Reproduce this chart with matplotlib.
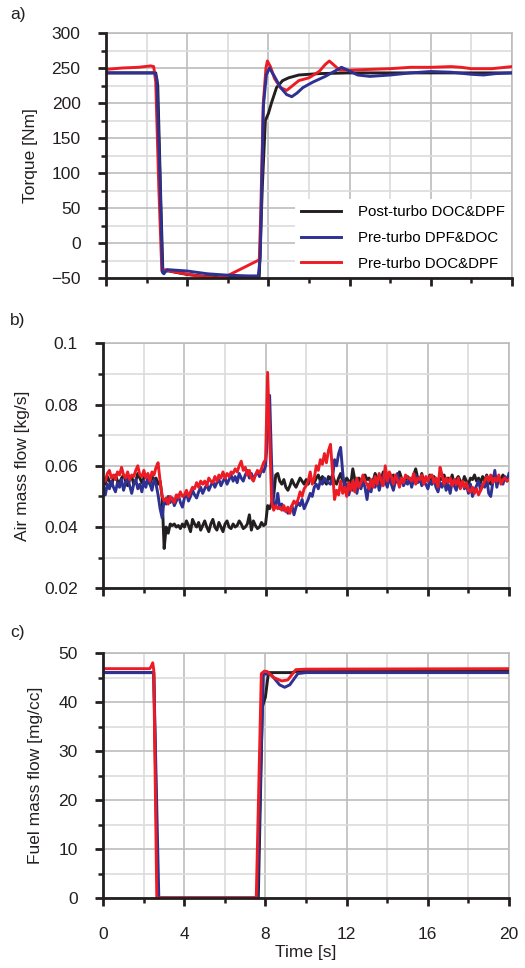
import numpy as np
import matplotlib
matplotlib.use("Agg")
import matplotlib.pyplot as plt
from matplotlib.ticker import MultipleLocator

plt.rcParams["font.family"] = ["Liberation Sans", "DejaVu Sans"]

#%% series labels and colours
labels = ["Post-turbo DOC&DPF", "Pre-turbo DPF&DOC", "Pre-turbo DOC&DPF"]
colors = ["#231f20", "#2e3192", "#ed1c24"]

#%% torque [Nm]
t_tq_post = [0, 2.45, 2.55, 2.7, 2.8, 3.1, 4.0, 5.0, 6.0, 7.0, 7.55, 7.7, 7.85, 8.0, 8.15,
             8.4, 8.7, 9.0, 9.5, 10.5, 12.0, 20]
tq_post = [243, 243, 225, 60, -40, -40, -45, -48, -48, -48, -48, 80, 175, 185, 200,
           222, 232, 236, 240, 242, 243, 243]

t_tq_dpf = [0, 2.4, 2.5, 2.65, 2.78, 2.85, 3.0, 4.0, 5.0, 6.0, 7.0, 7.5, 7.6, 7.75, 7.9,
            8.05, 8.3, 8.6, 8.9, 9.15, 9.4, 9.7, 10.2, 10.8, 11.3, 11.6, 11.9, 12.4, 13.0,
            14.0, 15.0, 16.0, 17.0, 18.0, 18.6, 19.2, 20]
tq_dpf = [243, 243, 235, 100, -42, -44, -38, -40, -44, -46, -47, -47, -20, 195, 240,
          250, 238, 222, 212, 209, 214, 222, 230, 238, 246, 251, 247, 240, 238,
          240, 243, 245, 244, 241, 240, 242, 243]

t_tq_doc = [0, 0.8, 1.6, 2.2, 2.35, 2.45, 2.6, 2.75, 2.85, 3.5, 4.5, 5.4, 5.9, 7.55, 7.62,
            7.75, 7.88, 7.95, 8.1, 8.3, 8.6, 8.9, 9.2, 9.5, 10.0, 10.5, 10.8, 11.0, 11.2,
            11.5, 12.0, 13.0, 14.0, 15.0, 16.0, 17.0, 17.5, 18.0, 19.0, 20.0]
tq_doc = [248, 250, 251, 253, 252, 230, 80, -40, -38, -42, -47, -50, -48, -24, 40,
          200, 250, 260, 252, 235, 222, 218, 225, 232, 236, 245, 255, 260, 255,
          247, 247, 248, 249, 251, 251, 252, 251, 249, 249, 252]

#%% air mass flow [g/s], sampled every 0.1 s
t_air = np.round(np.arange(0, 20.05, 0.1), 1)
air_post = [
    55.5, 54.0, 56.5, 55.0, 53.5, 56.0, 57.0, 55.0, 54.5, 56.0,
    57.0, 55.0, 53.5, 55.5, 56.5, 54.0, 55.0, 57.5, 56.0, 54.5,
    56.0, 57.0, 55.0, 54.0, 56.5, 55.5, 56.0, 54.0, 55.0, 50.0,
    33.0, 40.0, 38.0, 41.0, 40.5, 41.0, 40.0, 40.5, 39.5, 41.0,
    40.0, 42.0, 40.5, 38.5, 42.5, 41.0, 40.0, 41.5, 39.0, 40.5,
    42.0, 40.0, 38.5, 41.0, 42.5, 40.0, 39.0, 41.5, 40.0, 38.5,
    41.0, 42.0, 40.0, 39.5, 41.0, 40.0, 40.5, 42.0, 41.0, 39.5,
    40.0, 41.0, 44.0, 39.0, 42.0, 40.5, 39.5, 40.0, 41.5, 40.5,
    41.0, 47.0, 46.0, 48.0, 50.0, 57.0, 57.5, 55.0, 54.0, 55.5,
    53.0, 52.0, 53.5, 55.5, 54.0, 53.0, 54.5, 56.0, 55.0, 54.0,
    55.5, 54.0, 56.0, 55.5, 54.5, 56.0, 57.0, 55.0, 56.5, 55.0,
    54.0, 56.5, 55.5, 57.0, 55.0, 54.0, 56.0, 57.5, 55.0, 54.5,
    56.0, 55.0, 54.0, 59.0, 55.5, 53.5, 56.0, 55.0, 54.0, 57.0,
    55.5, 56.0, 54.0, 55.0, 57.5, 56.0, 54.0, 55.5, 58.0, 55.0,
    54.0, 56.5, 55.0, 57.0, 54.5, 55.5, 58.0, 56.0, 54.0, 55.5,
    56.5, 55.0, 54.0, 57.0, 59.0, 56.0, 55.0, 57.5, 54.5, 56.0,
    55.0, 57.0, 54.0, 56.5, 55.0, 54.0, 56.0, 55.5, 57.0, 54.5,
    56.0, 55.0, 57.0, 54.0, 55.5, 56.5, 55.0, 54.0, 56.5, 55.0,
    54.0, 56.0, 55.5, 57.0, 55.0, 56.0, 54.5, 56.5, 55.0, 57.0,
    55.0, 54.0, 56.5, 57.0, 55.0, 56.0, 55.5, 57.0, 56.0, 55.5,
    56.0]
air_dpf = [
    53.5, 50.5, 54.0, 52.5, 55.0, 53.0, 51.5, 54.5, 53.0, 55.5,
    52.0, 54.5, 56.0, 53.5, 51.0, 54.0, 55.5, 52.5, 54.0, 51.5,
    55.0, 53.0, 56.5, 54.0, 52.0, 55.5, 54.0, 50.5, 46.0, 43.0,
    49.0, 47.5, 50.0, 48.0, 49.5, 47.0, 48.5, 50.5, 48.0, 46.5,
    49.5, 51.0, 48.5, 50.0, 52.0, 50.5, 49.5, 51.5, 53.0, 51.0,
    52.5, 54.0, 52.0, 53.5, 55.0, 53.0, 54.5, 55.5, 53.5, 55.0,
    56.0, 54.0, 55.5, 57.0, 55.0, 56.5, 54.5, 57.5, 56.0, 55.0,
    57.0, 58.5, 56.0, 57.5, 55.5, 57.0, 58.0, 56.5, 59.0, 58.0,
    60.0, 70.0, 83.0, 60.0, 46.0, 47.0, 51.0, 46.0, 47.5, 45.5,
    46.0, 44.5, 45.5, 47.0, 44.0, 46.5, 48.0, 47.0, 49.0, 46.0,
    47.5, 49.0, 51.0, 50.0, 53.0, 54.0, 52.5, 55.0, 54.0, 56.0,
    55.0, 54.5, 54.0, 56.0, 62.0, 60.0, 64.0, 66.0, 58.0, 52.0,
    54.0, 50.5, 53.0, 52.0, 55.0, 51.0, 54.5, 52.5, 55.0, 53.0,
    49.0, 54.0, 51.5, 55.5, 53.0, 56.0, 52.0, 54.5, 57.0, 55.0,
    53.0, 56.5, 54.0, 52.0, 55.0, 57.5, 54.0, 56.0, 53.5, 55.0,
    54.0, 56.0, 53.0, 55.5, 57.0, 54.5, 56.0, 53.5, 55.0, 54.0,
    52.5, 55.0, 54.0, 56.0, 53.0, 51.5, 54.5, 53.0, 55.5, 52.0,
    54.0, 51.0, 55.0, 53.5, 52.0, 54.5, 53.0, 55.0, 52.5, 54.0,
    51.0, 54.0, 50.0, 52.0, 53.5, 55.0, 52.0, 54.0, 53.0, 56.0,
    51.0, 50.0, 54.5, 58.5, 53.0, 56.0, 55.0, 54.0, 56.5, 55.0,
    57.5]
air_doc = [
    56.0, 55.0, 57.5, 58.5, 56.0, 57.0, 55.5, 58.0, 57.0, 59.5,
    57.0, 56.0, 58.0, 55.5, 57.0, 56.5, 58.5, 60.0, 57.0, 56.5,
    58.5, 56.0, 57.5, 55.0, 58.0, 57.0, 59.5, 61.0, 55.0, 50.0,
    48.5, 49.5, 47.5, 50.0, 49.0, 48.0, 50.5, 49.5, 51.5, 50.0,
    50.5, 52.0, 50.0, 51.5, 53.0, 52.5, 54.5, 53.0, 55.0, 54.0,
    55.0, 53.5, 56.0, 55.0, 54.5, 56.5, 55.0, 57.0, 56.0, 58.0,
    56.0, 57.5, 56.5, 58.0, 57.5, 59.0, 58.0, 60.0, 61.5, 58.5,
    59.5, 57.0, 58.5, 56.0, 55.0, 57.0, 58.5, 57.5, 59.0, 61.0,
    62.0, 90.5, 70.0, 48.0, 45.5, 47.0, 46.0, 46.5, 45.5, 47.0,
    45.0, 46.5, 44.5, 47.0, 48.5, 47.5, 49.0, 51.5, 50.0, 52.5,
    53.5, 55.0, 58.0, 54.0, 56.0, 60.0, 58.5, 62.0, 60.5, 64.0,
    61.0, 65.0, 67.0, 58.0, 49.0, 52.0, 50.5, 55.0, 51.0, 53.0,
    50.0, 54.5, 52.0, 55.0, 51.5, 56.0, 53.0, 54.5, 57.0, 55.0,
    54.0, 52.5, 55.5, 53.0, 56.5, 54.0, 57.5, 55.0, 53.5, 60.0,
    55.0, 58.0, 56.5, 54.0, 57.0, 55.5, 53.0, 56.0, 54.5, 57.0,
    56.0, 56.0, 55.0, 57.5, 54.0, 56.0, 55.5, 57.0, 54.0, 56.5,
    55.0, 56.5, 57.0, 54.5, 56.0, 53.0, 59.5, 57.0, 54.0, 56.0,
    54.5, 56.0, 53.5, 55.5, 54.0, 56.0, 52.5, 55.0, 53.0, 54.5,
    52.0, 51.5, 53.0, 51.0, 52.5, 50.5, 52.0, 53.5, 55.0, 56.5,
    55.0, 57.0, 54.5, 56.0, 55.0, 57.0, 54.0, 55.5, 56.0, 55.0,
    55.5]

#%% fuel mass flow [mg/cc]
t_fuel_post = [0, 2.4, 2.5, 2.7, 7.55, 7.65, 7.85, 8.0, 8.15, 9.3, 9.6, 20]
fuel_post = [46.0, 46.0, 46.0, 0, 0, 0, 39.0, 41.0, 46.0, 46.0, 46.3, 46.3]

t_fuel_dpf = [0, 2.4, 2.5, 2.75, 7.55, 7.6, 7.9, 8.3, 8.7, 8.95, 9.2, 9.6, 10, 20]
fuel_dpf = [46.0, 46.0, 46.0, 0, 0, 0, 45.8, 45.5, 43.5, 43.0, 43.5, 45.8, 46.0, 46.0]

t_fuel_doc = [0, 2.3, 2.38, 2.45, 2.5, 2.65, 7.5, 7.55, 7.8, 7.95, 8.1, 8.4, 8.8, 9.1,
              9.5, 10, 20]
fuel_doc = [46.8, 46.8, 47.3, 48.0, 46.5, 0, 0, 0, 45.8, 46.3, 46.2, 45.0, 44.3, 44.5,
            46.6, 46.7, 46.8]

#%% figure
fig = plt.figure(figsize=(5.25, 9.68), dpi=100)
ax_a = fig.add_axes([106 / 525, 1 - 278 / 968, 406 / 525, 245 / 968])
ax_b = fig.add_axes([103.3 / 525, 1 - 588.3 / 968, 405.7 / 525, 245 / 968])
ax_c = fig.add_axes([103 / 525, 1 - 898 / 968, 406 / 525, 245 / 968])

lw = 2.1
fs = 12.5
ink = "#231f20"
grid_major = "#bcbcbc"
grid_minor = "#dcdcdc"


def style_axes(ax, ymin, ymax, ymajor, show_x):
    ax.set_xlim(0, 20)
    ax.set_ylim(ymin, ymax)
    ax.xaxis.set_major_locator(MultipleLocator(4))
    ax.xaxis.set_minor_locator(MultipleLocator(2))
    ax.yaxis.set_major_locator(MultipleLocator(ymajor))
    ax.yaxis.set_minor_locator(MultipleLocator(ymajor / 2))
    ax.grid(which="major", color=grid_major, linewidth=1.2, zorder=0)
    ax.grid(which="minor", color=grid_minor, linewidth=1.2, zorder=0)
    ax.set_axisbelow(True)
    for side in ["left", "bottom"]:
        ax.spines[side].set_linewidth(2.0)
        ax.spines[side].set_color(ink)
        ax.spines[side].set_zorder(5)
    for side in ["top", "right"]:
        ax.spines[side].set_linewidth(1.2)
        ax.spines[side].set_color(grid_major)
    ax.tick_params(which="major", direction="out", length=5.8, width=2.0,
                   color=ink, labelsize=fs, labelcolor=ink)
    ax.tick_params(which="minor", direction="out", length=3.6, width=1.8, color=ink)
    ax.tick_params(axis="y", which="major", pad=12.5)
    ax.tick_params(axis="x", which="major", pad=15)
    if not show_x:
        ax.tick_params(axis="x", labelbottom=False)


# a) torque
ax_a.plot(t_tq_post, tq_post, color=colors[0], lw=lw, label=labels[0], zorder=3)
ax_a.plot(t_tq_doc, tq_doc, color=colors[2], lw=lw, label=labels[2], zorder=3)
ax_a.plot(t_tq_dpf, tq_dpf, color=colors[1], lw=lw, label=labels[1], zorder=4)
style_axes(ax_a, -50, 300, 50, False)
ax_a.set_ylabel("Torque [Nm]", fontsize=fs, color=ink)
ax_a.yaxis.set_label_coords(-0.167, 0.5)
handles, names = ax_a.get_legend_handles_labels()
order = [0, 2, 1]
leg = ax_a.legend([handles[i] for i in order], [names[i] for i in order],
                  loc="lower right", bbox_to_anchor=(1.0, 0.0), fontsize=10.8,
                  frameon=True, fancybox=False, handlelength=2.7, handletextpad=1.1,
                  labelspacing=0.78, borderpad=0.4, borderaxespad=0.1)
leg.get_frame().set_facecolor("white")
leg.get_frame().set_edgecolor("none")
leg.get_frame().set_alpha(1.0)
leg.set_zorder(6)

# b) air mass flow, stored in g/s
ax_b.plot(t_air, np.array(air_post) / 1000, color=colors[0], lw=lw, zorder=3)
ax_b.plot(t_air, np.array(air_dpf) / 1000, color=colors[1], lw=lw, zorder=3)
ax_b.plot(t_air, np.array(air_doc) / 1000, color=colors[2], lw=lw, zorder=4)
style_axes(ax_b, 0.02, 0.1, 0.02, False)
ax_b.yaxis.set_major_formatter(plt.FuncFormatter(lambda v, p: f"{v:g}"))
ax_b.set_ylabel("Air mass flow [kg/s]", fontsize=fs, color=ink)
ax_b.yaxis.set_label_coords(-0.181, 0.5)

# c) fuel mass flow
ax_c.plot(t_fuel_post, fuel_post, color=colors[0], lw=lw, zorder=3)
ax_c.plot(t_fuel_dpf, fuel_dpf, color=colors[1], lw=lw, zorder=3)
ax_c.plot(t_fuel_doc, fuel_doc, color=colors[2], lw=lw, zorder=4)
style_axes(ax_c, 0, 50, 10, True)
ax_c.set_ylabel("Fuel mass flow [mg/cc]", fontsize=fs, color=ink)
ax_c.yaxis.set_label_coords(-0.149, 0.5)
ax_c.set_xlabel("Time [s]", fontsize=fs, color=ink, labelpad=2)

for txt, y in [("a)", 15), ("b)", 320), ("c)", 632)]:
    fig.text(10 / 525, 1 - y / 968, txt, fontsize=fs, color=ink, va="center")

fig.savefig("out.png", dpi=100)
